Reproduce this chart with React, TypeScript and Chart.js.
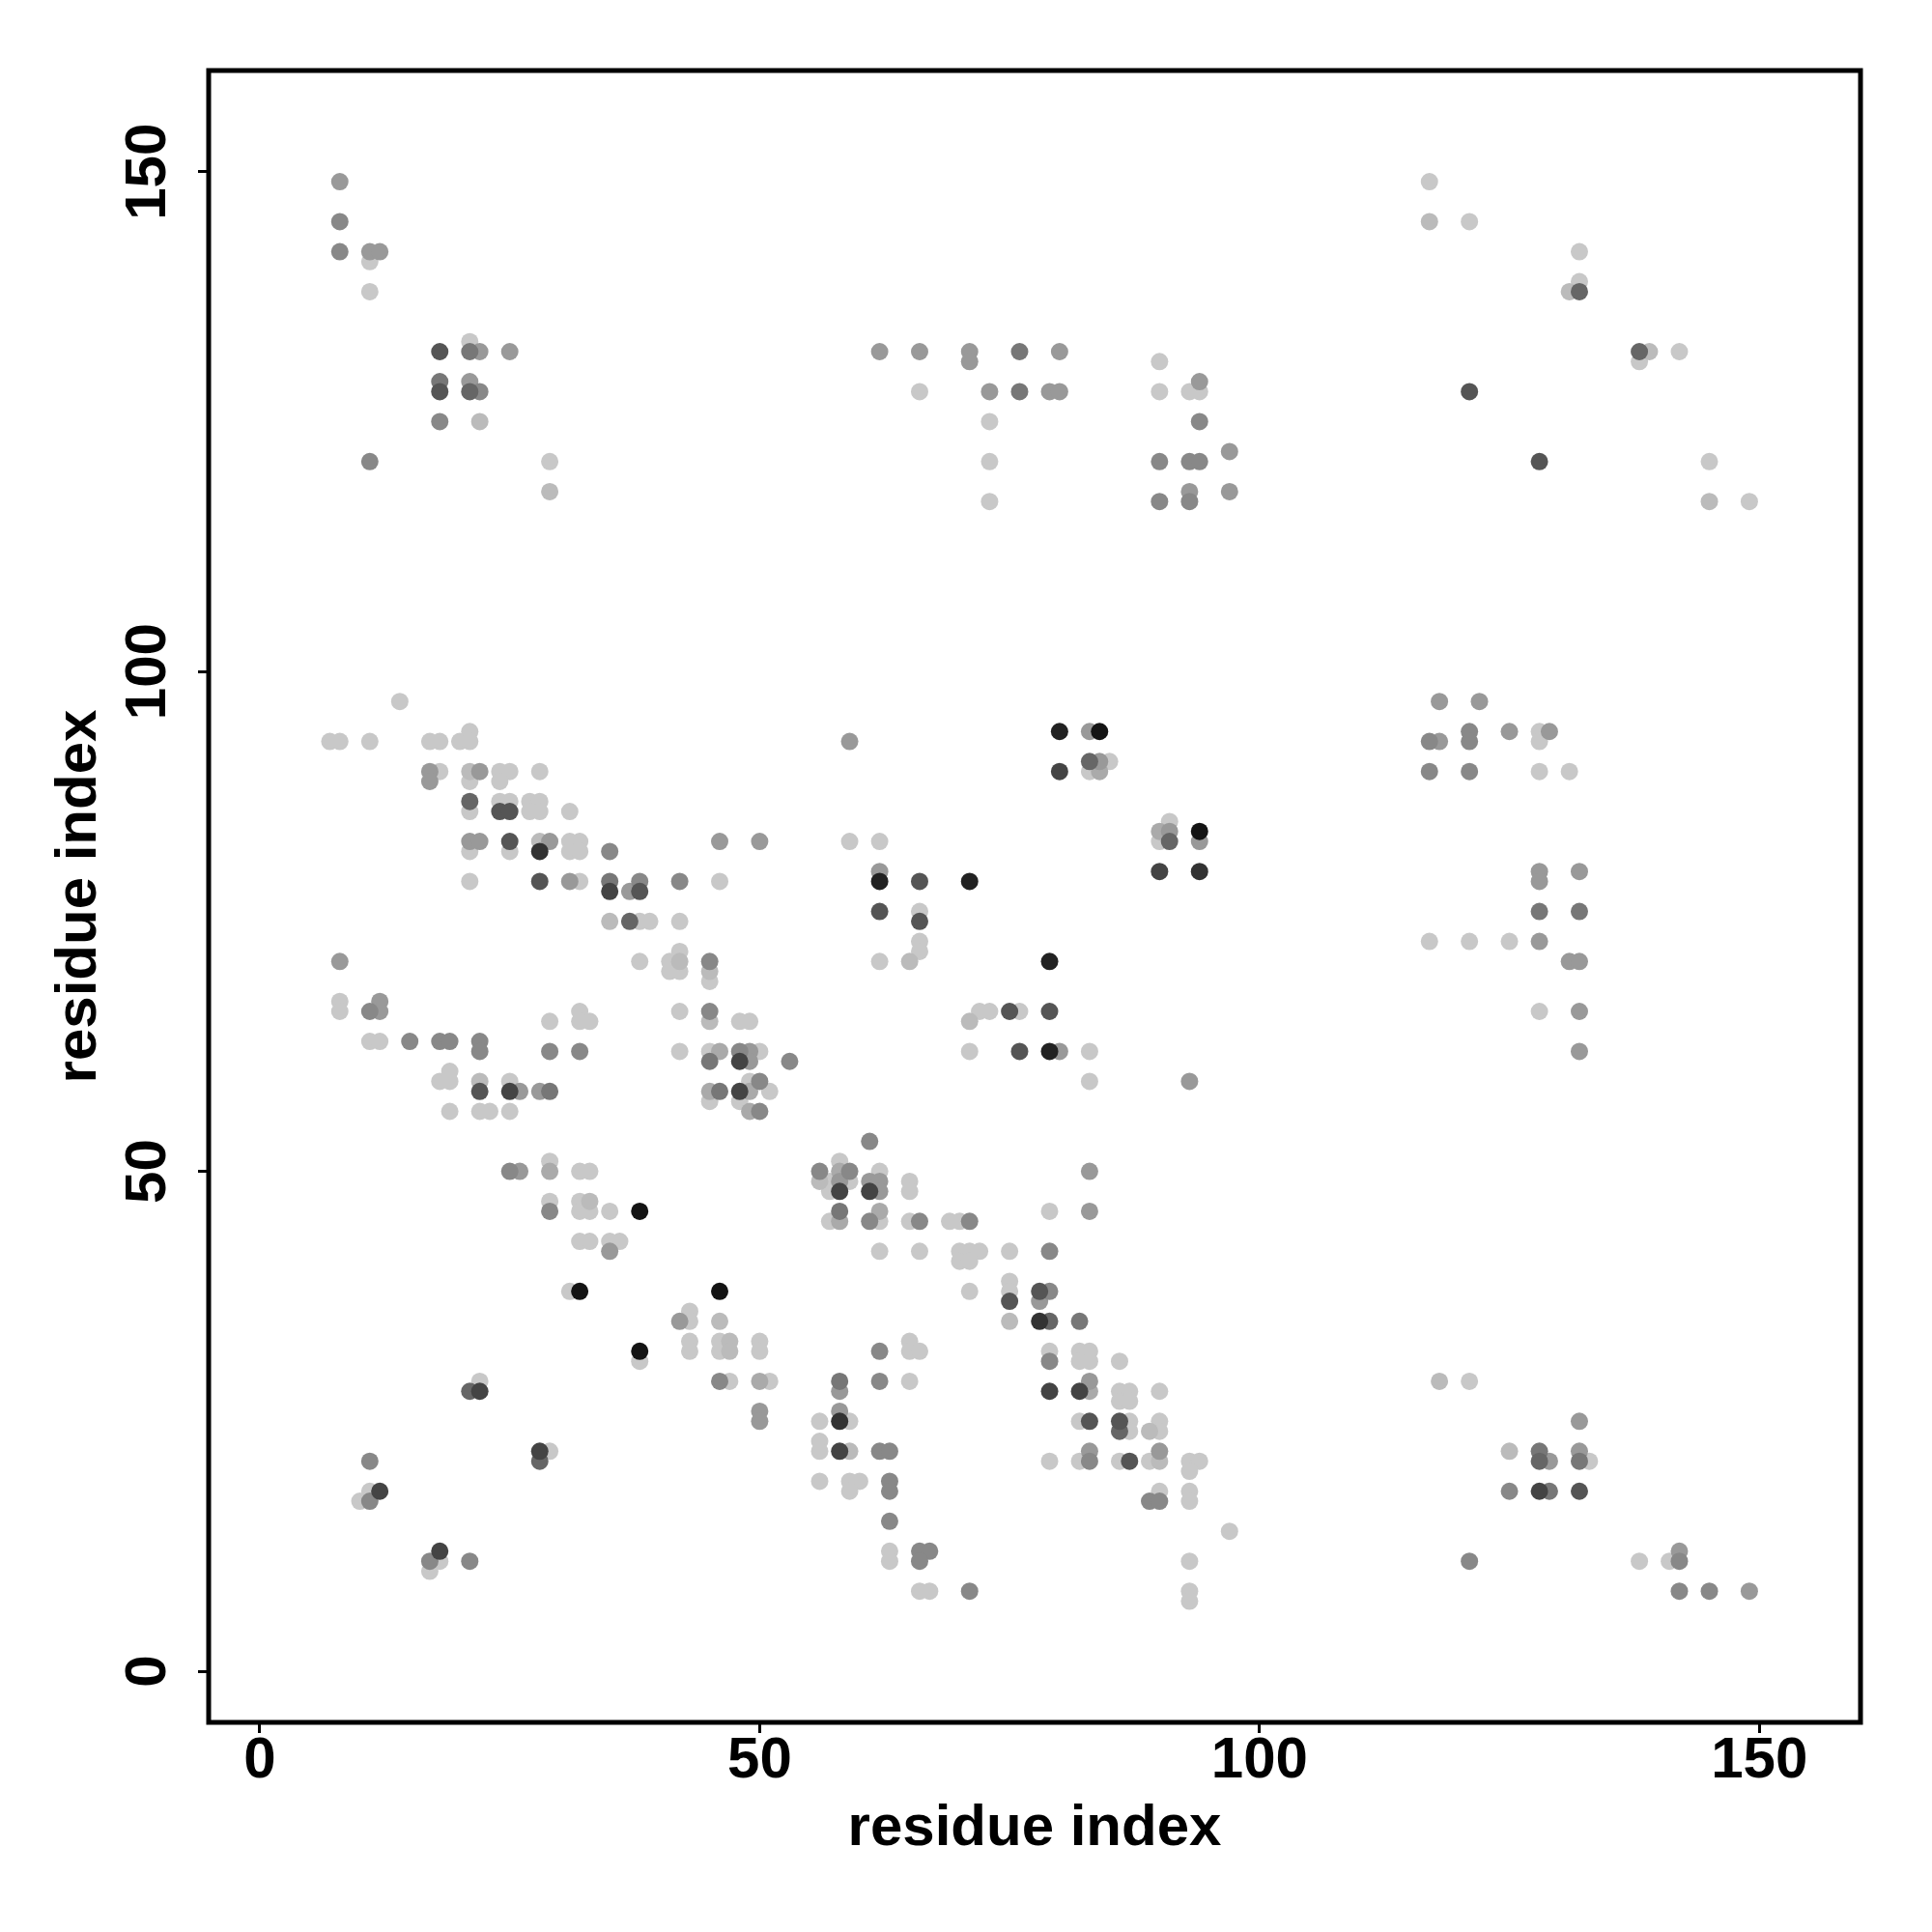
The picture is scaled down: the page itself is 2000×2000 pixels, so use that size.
import React, { useEffect, useRef } from "react";
import { Chart, registerables } from "chart.js";

Chart.register(...registerables);

// ---- axes ----
const tickValues = [0, 50, 100, 150];
const xTitle = "residue index";
const yTitle = "residue index";
const axisMin = -5.12;
const axisMax = 160.12;

// ---- contacts grouped by gray level (x residue, y residue) ----
const gray200: [number, number][] = [
  [11,141],[11,138],[21,133],[29,121],
  [66,128],[73,125],[73,121],[73,117],[90,131],[90,128],[93,128],[94,128],
  [117,149],[121,145],[132,142],[132,139],[138,131],[142,132],[145,121],[149,117],
  [14,97],[7,93],[8,93],[11,93],[17,93],[18,93],[20,93],[21,94],[21,93],[18,90],[21,89],[24,90],[25,90],[24,89],[28,90],
  [21,86],[24,87],[25,87],[27,87],[28,87],[27,86],[28,86],[31,86],[21,82],[25,82],[31,83],[32,83],[31,82],[32,82],
  [21,79],[32,79],[46,79],[38,75],[39,75],[42,75],[38,71],[41,71],[41,70],[42,72],[42,70],[45,69],
  [8,67],[8,66],[29,65],[32,66],[32,65],[33,65],[42,66],[48,65],[49,65],[11,63],[12,63],[42,62],[45,62],[50,62],
  [18,59],[19,60],[19,59],[25,59],[19,56],[22,56],[23,56],[25,56],[45,57],[49,59],[51,58],[48,57],
  [85,91],[83,90],[59,83],[62,83],[66,76],[66,73],[66,72],[62,71],[91,85],[90,83],[72,66],[73,66],[76,66],[71,62],[83,62],[83,59],
  [128,94],[128,93],[128,90],[131,90],[117,73],[121,73],[125,73],[128,66],
  [29,51],[32,50],[33,50],[29,47],[32,47],[32,46],[33,46],[35,46],[32,43],[33,43],[35,43],[36,43],[31,38],[43,36],[43,35],
  [43,33],[43,32],[46,33],[46,32],[50,33],[50,32],[38,31],[47,29],[51,29],[22,29],[29,22],[11,18],[10,17],[18,11],[17,10],
  [57,49],[58,51],[59,49],[57,48],[62,50],[65,49],[65,48],[57,45],[62,45],[65,45],[69,45],[70,45],[79,46],
  [62,42],[66,42],[70,42],[71,42],[72,42],[70,41],[71,41],[75,42],[71,38],[75,39],[75,38],
  [65,33],[65,32],[66,32],[79,32],[82,32],[83,32],[82,31],[83,31],[86,31],[65,29],[86,28],[87,28],[86,27],[87,27],[90,28],
  [56,25],[59,25],[82,25],[87,25],[87,24],[90,25],[90,24],[56,23],[56,22],[79,21],[82,21],[86,21],[89,21],[93,21],[94,21],[93,20],
  [56,19],[59,19],[60,19],[59,18],[90,18],[93,18],[93,17],[97,14],[63,12],[63,11],[93,11],[66,8],[67,8],[93,8],[93,7],
  [121,29],[133,21],[138,11],[141,11],
];
const gray187: [number, number][] = [
  [29,118],[22,125],[117,145],[131,138],[139,132],[145,117],[21,90],[28,83],[35,75],[42,71],[45,70],[45,65],[22,59],
  [65,71],[71,65],[33,47],[46,35],[47,33],[47,32],[56,49],[75,35],[89,24],[59,22],[90,21],[118,29],[125,22],
];
const gray170: [number, number][] = [
  [46,62],[45,58],[49,58],[49,56],[84,90],[90,84],[29,50],[50,29],[58,50],[58,45],[62,46],[83,28],
];
const gray153: [number, number][] = [
  [8,149],[11,142],[12,142],[22,132],[25,132],[21,129],
  [62,132],[66,132],[71,132],[71,131],[80,132],[73,128],[79,128],[80,128],[94,129],[97,122],[93,118],[97,118],
  [17,90],[17,89],[22,90],[21,83],[22,83],[29,83],[46,83],[50,83],[31,79],[37,78],[8,71],[12,67],[12,66],[49,62],[49,61],[26,58],[28,58],
  [59,93],[83,94],[84,91],[62,80],[91,84],[94,83],[80,62],[93,59],
  [118,97],[122,97],[118,93],[125,94],[129,94],[128,80],[128,79],[132,80],[128,73],[131,71],[132,71],[132,66],[132,62],
  [26,50],[35,42],[42,35],[50,26],[50,25],
  [58,49],[61,49],[62,49],[62,48],[83,50],[83,46],[78,37],[58,28],[83,29],[58,26],[83,22],[90,22],
  [132,25],[129,21],[132,22],[142,12],[149,8],
];
const gray136: [number, number][] = [
  [8,145],[8,142],[22,128],[18,125],[11,121],
  [94,125],[90,121],[93,121],[94,121],[93,117],[90,117],
  [35,82],[38,79],[42,79],[45,71],[11,66],[45,66],[15,63],[18,63],[19,63],[22,63],[22,62],[29,62],[32,62],[48,62],[53,61],[50,59],[50,56],
  [117,93],[121,94],[121,93],[117,90],[121,90],
  [25,50],[29,46],[46,29],[11,21],[11,17],[17,11],[21,11],
  [61,53],[56,50],[59,50],[61,45],[66,45],[71,45],[79,42],[79,38],[62,32],[79,31],[62,29],[62,22],[63,22],[83,21],
  [63,19],[63,18],[89,17],[90,17],[63,15],[66,12],[67,12],[66,11],[71,8],
  [125,18],[121,11],[142,11],[142,8],[145,8],
];
const gray119: [number, number][] = [
  [21,132],[18,129],[76,132],[76,128],[35,79],[45,61],[46,58],[29,58],[128,76],[132,76],[58,46],[82,35],[58,29],[128,22],[132,21],[129,18],
];
const gray102: [number, number][] = [
  [21,128],[132,138],[138,132],[21,87],[37,75],[83,91],[91,83],[21,28],[28,21],[79,35],[86,24],[128,21],
];
const gray85: [number, number][] = [
  [18,132],[18,128],[121,128],[128,121],[24,86],[25,86],[25,83],[28,79],[38,78],[22,58],[66,79],[62,76],[66,75],
  [75,66],[79,66],[76,62],[75,37],[78,38],[83,25],[86,25],[87,21],[132,18],
];
const gray68: [number, number][] = [
  [35,78],[48,61],[25,58],[48,58],[80,90],[90,80],[22,28],[28,22],[12,18],[18,12],[58,48],[61,48],[79,28],[82,28],[58,22],[128,18],
];
const gray51: [number, number][] = [[28,82],[94,80],[78,35],[58,25]];
const gray34: [number, number][] = [[80,94],[62,79],[71,79],[79,71],[79,62]];
const gray20: [number, number][] = [[84,94],[94,84],[38,46],[32,38],[46,38],[38,32]];

const grayGroups: [number, [number, number][]][] = [
  [200, gray200], [187, gray187], [170, gray170], [153, gray153], [136, gray136], [119, gray119],
  [102, gray102], [85, gray85], [68, gray68], [51, gray51], [34, gray34], [20, gray20],
];

const FONT = 'bold 60px "Liberation Sans", Arial, Helvetica, sans-serif';

const frameAndLabels = {
  id: "frameAndLabels",
  afterDraw(chart: any) {
    const { ctx, chartArea: a, scales } = chart;
    ctx.save();
    ctx.strokeStyle = "#000";
    ctx.lineWidth = 5;
    ctx.strokeRect(a.left, a.top, a.right - a.left, a.bottom - a.top);
    ctx.fillStyle = "#000";
    ctx.font = FONT;
    ctx.textAlign = "center";
    ctx.textBaseline = "alphabetic";
    for (const v of tickValues) {
      ctx.fillText(String(v), scales.x.getPixelForValue(v), a.bottom + 57);
    }
    for (const v of tickValues) {
      ctx.save();
      ctx.translate(a.left - 45, scales.y.getPixelForValue(v));
      ctx.rotate(-Math.PI / 2);
      ctx.fillText(String(v), 0, 0);
      ctx.restore();
    }
    ctx.fillText(xTitle, (a.left + a.right) / 2, a.bottom + 127);
    ctx.save();
    ctx.translate(a.left - 117, (a.top + a.bottom) / 2);
    ctx.rotate(-Math.PI / 2);
    ctx.fillText(yTitle, 0, 0);
    ctx.restore();
    ctx.restore();
  },
};

export default function App() {
  const ref = useRef<HTMLCanvasElement | null>(null);
  useEffect(() => {
    if (!ref.current) return;
    const axisCommon = (which: "x" | "y") => ({
      type: "linear" as const,
      min: axisMin,
      max: axisMax,
      afterBuildTicks: (s: any) => {
        s.ticks = tickValues.map((v) => ({ value: v }));
      },
      afterFit: (s: any) => {
        if (which === "x") s.height = 217;
        else s.width = 216;
      },
      ticks: { display: false },
      grid: {
        display: true,
        drawOnChartArea: false,
        drawTicks: true,
        tickLength: 11,
        tickWidth: 3,
        tickColor: "#000",
      },
      border: { display: false },
    });
    const chart = new Chart(ref.current, {
      type: "scatter",
      data: {
        datasets: grayGroups.map(([g, pts]) => ({
          label: "p" + g,
          data: pts.map(([x, y]) => ({ x, y })),
          backgroundColor: `rgb(${g},${g},${g})`,
          borderWidth: 0,
          pointRadius: 9,
          pointHoverRadius: 9,
          order: g,
        })),
      },
      options: {
        responsive: false,
        animation: false,
        devicePixelRatio: 1,
        layout: { padding: { left: 0, top: 73, right: 74, bottom: 0 } },
        plugins: { legend: { display: false }, tooltip: { enabled: false } },
        scales: { x: axisCommon("x"), y: axisCommon("y") } as any,
      },
      plugins: [frameAndLabels],
    });
    return () => chart.destroy();
  }, []);
  return (
    <div style={{ position: "absolute", left: 0, top: 0, width: 2000, height: 2000, background: "#fff" }}>
      <canvas ref={ref} width={2000} height={2000} style={{ display: "block", width: 2000, height: 2000 }} />
    </div>
  );
}
